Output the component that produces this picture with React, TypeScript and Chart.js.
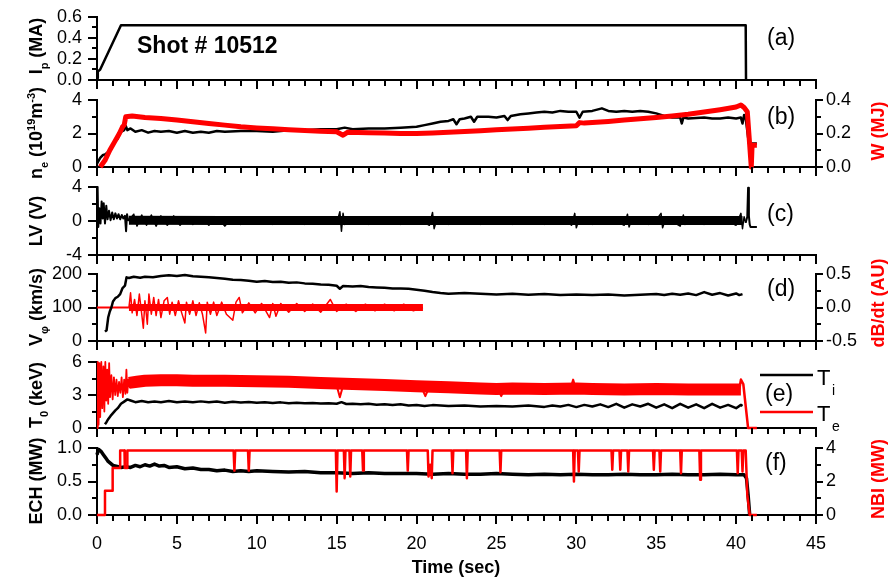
import React, { useEffect, useRef } from 'react';
import { Chart, registerables } from 'chart.js';

Chart.register(...registerables);

const FONT = "'Liberation Sans', Arial, Helvetica, sans-serif";
const RED = '#ff0000';
const BLACK = '#000000';
const W = 891;
const H = 579;
const LEFT = 97;
const RIGHT = 816;

Chart.defaults.font.family = FONT;
Chart.defaults.color = BLACK;

type Pt = [number, number | null];

// ---------------- data (time in s, value) ----------------
// (a) plasma current Ip (MA)
const IP: Pt[] = [[0, 0.02], [0.05, 0.08], [0.2, 0.1], [1.5, 0.52], [40.6, 0.52], [40.62, 0]];

// (b) line density ne (1e19 m^-3), left axis
const NE: Pt[] = [[0, 0.2], [0.2, 0.55], [0.35, 0.7], [0.5, 0.75], [0.7, 0.9], [0.9, 1.2], [1.1, 1.5], [1.3, 1.7], [1.5, 2.1], [1.7, 2.2], [1.8, 2.45], [1.9, 2.2], [2.1, 2.3], [2.4, 2.1], [2.8, 2.2], [3.2, 2.05], [3.6, 2.15], [4, 2.1], [4.5, 2.15], [5, 2.05], [5.5, 2.15], [6, 2.05], [6.5, 2.1], [7, 2.05], [7.5, 2.15], [8, 2.1], [9, 2.15], [10, 2.15], [11, 2.1], [12, 2.2], [13, 2.2], [14, 2.25], [15, 2.25], [15.5, 2.35], [16, 2.25], [17, 2.3], [18, 2.3], [19, 2.35], [20, 2.4], [20.5, 2.5], [21, 2.6], [21.5, 2.7], [22, 2.75], [22.3, 2.85], [22.5, 2.55], [22.7, 2.85], [23, 2.9], [23.4, 3.0], [23.6, 2.7], [23.8, 3.0], [24.5, 3.0], [25, 2.95], [25.5, 3.05], [25.7, 2.8], [25.9, 3.05], [26.5, 3.15], [27, 3.2], [27.5, 3.25], [28, 3.3], [28.5, 3.25], [29, 3.35], [29.5, 3.3], [30, 3.3], [30.2, 2.95], [30.4, 3.3], [31, 3.35], [31.6, 3.5], [32, 3.35], [32.5, 3.3], [33, 3.35], [33.5, 3.3], [34, 3.35], [34.5, 3.3], [35, 3.2], [35.5, 3.05], [36, 2.95], [36.5, 2.95], [36.6, 2.6], [36.7, 2.95], [37, 2.9], [38, 2.95], [38.5, 2.9], [39, 2.9], [39.5, 2.95], [40, 2.9], [40.3, 2.95], [40.4, 2.6], [40.5, 3.1], [40.6, 2.9], [40.8, 1.4], [41.3, 1.4]];

// (b) stored energy W (MJ), right axis
const WMJ: Pt[] = [[0.2, 0], [0.5, 0.04], [0.8, 0.1], [1.1, 0.15], [1.4, 0.2], [1.6, 0.24], [1.7, 0.25], [1.8, 0.3], [2.2, 0.305], [3, 0.295], [4, 0.29], [5, 0.28], [6, 0.27], [7, 0.26], [8, 0.25], [9, 0.24], [10, 0.233], [11, 0.228], [12, 0.222], [13, 0.218], [14, 0.214], [15, 0.21], [15.4, 0.19], [15.7, 0.208], [17, 0.205], [18, 0.203], [19, 0.2], [20, 0.2], [21, 0.203], [22, 0.207], [23, 0.212], [24, 0.217], [25, 0.222], [26, 0.227], [27, 0.232], [28, 0.237], [29, 0.242], [30, 0.246], [30.2, 0.265], [30.5, 0.262], [31, 0.266], [32, 0.272], [33, 0.28], [34, 0.288], [35, 0.296], [36, 0.305], [37, 0.315], [38, 0.328], [39, 0.342], [40, 0.358], [40.3, 0.37], [40.5, 0.355], [40.7, 0.33], [40.95, 0.0], [41.0, 0.13], [41.3, 0.13]];

// (c) loop voltage LV (V)
const LV_EARLY: Pt[] = [[0, 4.0], [0.04, 3.8], [0.08, -0.7], [0.15, 1.5], [0.22, -0.3], [0.29, 2.3], [0.36, 0.3], [0.42, 2.1], [0.5, -0.3], [0.58, 1.8], [0.66, 0.2], [0.75, 1.2], [0.85, 0.1], [0.95, 1.0], [1.05, 0.2], [1.15, 0.9], [1.25, 0.3], [1.35, 0.8], [1.45, 0.2], [1.55, 0.7], [1.65, 0.3], [1.75, 0.6], [1.82, -1.2], [1.88, 0.8], [1.95, 0.1], [2.0, 0.3]];
const LV_BAND: Pt[] = [[2.0, 0.1], [8.0, 0.05], [40.4, 0.05]];
const LV_SPIKES: Pt[] = [[2, 0.1], [2.3, 0.8], [2.5, -0.6], [2.8, 0.7], [3.1, -0.5], [3.4, 0.7], [3.7, -0.6], [4.0, 0.6], [4.4, -0.5], [4.8, 0.6], [5.2, -0.5], [5.6, 0.5], [6.0, -0.4], [6.5, 0.5], [7.0, -0.5], [7.5, 0.4], [8, -0.6], [8.5, 0.4], [9, -0.4], [10, 0.4], [11, -0.4], [12, 0.4], [13, -0.4], [14, 0.4], [15, -0.3], [15.2, 1.1], [15.3, -1.2], [15.4, 0.9], [15.5, -0.4], [16, 0.4], [17, -0.4], [18, 0.4], [19, -0.4], [20, 0.4], [20.8, -0.5], [21.0, 1.0], [21.1, -0.9], [21.3, 0.4], [22, -0.4], [23, 0.4], [24, -0.4], [25, 0.4], [26, -0.4], [27, 0.4], [28, -0.4], [29, 0.4], [29.7, -0.5], [29.9, 0.9], [30.0, -0.8], [30.2, 0.4], [31, -0.4], [32, 0.4], [33, -0.5], [33.2, 0.8], [33.3, -0.7], [33.5, 0.4], [34.5, -0.4], [35.1, 0.4], [35.3, 0.9], [35.4, -0.8], [35.6, 0.4], [36.5, -0.6], [36.7, 0.7], [36.8, -0.4], [37.5, 0.5], [38, -0.4], [39, 0.4], [40, -0.5], [40.3, 0.9], [40.4, -0.9], [40.5, 0.5], [40.6, -0.2]];
const LV_END: Pt[] = [[40.6, -0.2], [40.7, 0.5], [40.75, 3.9], [40.8, 0.6], [40.85, -0.4], [40.9, -0.7], [41.3, -0.7]];

// (d) toroidal rotation V_phi (km/s), left axis
const VPHI: Pt[] = [[0.5, 28], [0.6, 32], [0.7, 70], [0.8, 88], [0.9, 100], [1.0, 118], [1.15, 128], [1.3, 132], [1.45, 140], [1.6, 158], [1.75, 165], [1.85, 190], [2.0, 188], [2.3, 192], [2.7, 189], [3.0, 192], [3.5, 190], [4.0, 194], [4.5, 196], [5.0, 194], [5.5, 197], [6, 193], [6.5, 192], [7, 190], [7.5, 188], [8, 186], [8.5, 183], [9, 182], [9.5, 180], [10, 177], [10.5, 179], [11, 176], [11.5, 177], [12, 174], [12.5, 175], [13, 172], [13.5, 171], [14, 169], [14.5, 168], [15, 165], [15.2, 156], [15.4, 164], [16, 163], [16.5, 164], [17, 161], [17.5, 160], [18, 159], [18.5, 157], [19, 157], [19.5, 156], [20, 153], [20.5, 150], [21, 146], [21.5, 143], [22, 141], [23, 143], [24, 141], [25, 139], [26, 141], [27, 138], [28, 140], [29, 137], [30, 139], [31, 137], [32, 139], [33, 136], [34, 138], [35, 140], [35.5, 137], [36, 141], [36.5, 138], [37, 142], [37.5, 137], [38, 146], [38.5, 138], [39, 143], [39.5, 136], [40, 142], [40.2, 137], [40.4, 140]];

// (d) dB/dt (AU), right axis
const DB_FLAT: Pt[] = [[0, 0], [2.0, 0]];
const DB_BAND: Pt[] = [[2.0, 0], [20.4, 0]];
const DB_SPIKES: Pt[] = [[2.0, 0], [2.1, 0.22], [2.2, -0.08], [2.35, 0.12], [2.5, -0.12], [2.65, 0.2], [2.8, -0.1], [2.9, -0.31], [3.0, 0.1], [3.15, -0.25], [3.25, 0.2], [3.4, -0.1], [3.55, 0.15], [3.7, -0.12], [3.85, 0.12], [4.0, -0.15], [4.2, 0.1], [4.4, 0.15], [4.55, -0.1], [4.7, 0.08], [4.9, -0.12], [5.1, 0.1], [5.3, -0.08], [5.5, -0.23], [5.6, 0.08], [5.8, -0.1], [6.0, 0.1], [6.2, -0.12], [6.4, 0.07], [6.6, -0.1], [6.8, -0.38], [6.9, 0.08], [7.1, -0.1], [7.3, 0.08], [7.5, -0.12], [7.8, 0.08], [8.1, -0.1], [8.5, -0.19], [8.7, 0.08], [8.9, 0.15], [9.1, -0.08], [9.5, 0.07], [9.9, -0.08], [10.3, 0.06], [10.8, -0.15], [11.0, 0.06], [11.2, -0.13], [11.5, 0.06], [12, -0.07], [12.5, 0.06], [13, -0.06], [13.5, 0.05], [14, -0.07], [14.6, 0.12], [15, -0.06], [15.6, 0.05], [16.2, -0.06], [16.8, 0.05], [17.4, -0.05], [18, 0.05], [18.6, -0.05], [19.2, 0.05], [19.8, -0.05], [20.4, 0]];

// (e) central temperatures T0 (keV)
const TE_EARLY: Pt[] = [[0, 0.0], [0.05, 6.0], [0.1, 0.3], [0.15, 5.9], [0.2, 1.0], [0.27, 6.0], [0.33, 1.8], [0.4, 5.6], [0.46, 1.5], [0.52, 6.0], [0.58, 2.5], [0.64, 5.3], [0.7, 2.2], [0.76, 5.9], [0.82, 2.8], [0.9, 4.8], [0.98, 2.6], [1.06, 4.6], [1.14, 3.0], [1.22, 4.4], [1.3, 2.9], [1.38, 4.2], [1.46, 3.2], [1.54, 4.6], [1.62, 2.8], [1.7, 4.4], [1.78, 3.1], [1.84, 5.3], [1.9, 3.2], [1.96, 4.4], [2.05, 3.7], [2.15, 4.3]];
const TE_BAND: Pt[] = [[2.0, 4.1], [2.5, 4.2], [3, 4.3], [4, 4.35], [5, 4.35], [6, 4.3], [8, 4.3], [10, 4.25], [12, 4.2], [14, 4.1], [15, 4.05], [16, 4.0], [18, 3.9], [20, 3.8], [22, 3.7], [24, 3.6], [25, 3.55], [26, 3.6], [28, 3.55], [30, 3.58], [31, 3.55], [33, 3.5], [35, 3.55], [37, 3.5], [39, 3.5], [40.3, 3.5]];
const TE_DIP: Pt[] = [[15.05, 3.6], [15.2, 2.8], [15.35, 3.6], [15.4, null], [20.4, 3.4], [20.55, 2.9], [20.7, 3.4], [20.8, null], [25.2, 3.2], [25.3, 2.9], [25.4, 3.2], [25.5, null], [29.7, 3.9], [29.8, 4.4], [29.9, 3.9]];
const TE_END: Pt[] = [[40.2, 3.5], [40.3, 4.4], [40.45, 4.0], [40.6, 2.0], [40.75, 0], [41.3, 0]];
const TI: Pt[] = [[0.5, 0.35], [0.6, 0.55], [0.7, 0.8], [0.85, 1.1], [1.0, 1.35], [1.15, 1.6], [1.3, 1.8], [1.5, 2.2], [1.7, 2.4], [1.9, 2.6], [2.1, 2.5], [2.4, 2.35], [2.8, 2.45], [3.2, 2.35], [3.6, 2.4], [4, 2.35], [4.5, 2.45], [5, 2.35], [5.5, 2.4], [6, 2.35], [6.5, 2.42], [7, 2.35], [7.5, 2.4], [8, 2.3], [8.5, 2.38], [9, 2.32], [9.5, 2.36], [10, 2.3], [10.5, 2.35], [11, 2.28], [11.5, 2.33], [12, 2.26], [12.5, 2.3], [13, 2.25], [13.5, 2.28], [14, 2.22], [14.5, 2.25], [15, 2.2], [15.3, 2.35], [15.6, 2.18], [16, 2.2], [16.5, 2.15], [17, 2.2], [17.5, 2.12], [18, 2.16], [18.5, 2.1], [19, 2.15], [19.5, 2.05], [20, 2.1], [20.5, 2.0], [21, 2.08], [22, 2.0], [23, 2.05], [24, 1.95], [25, 2.0], [26, 1.95], [27, 2.05], [28, 1.92], [28.5, 2.05], [29, 1.95], [29.5, 2.1], [30, 1.9], [30.5, 2.1], [31, 1.95], [31.5, 2.15], [32, 1.9], [32.5, 2.2], [33, 1.85], [33.5, 2.15], [34, 1.95], [34.5, 2.2], [35, 1.85], [35.5, 2.15], [36, 1.8], [36.5, 2.2], [37, 1.85], [37.5, 2.15], [38, 1.8], [38.5, 2.2], [39, 1.85], [39.5, 2.1], [40, 1.8], [40.3, 2.1], [40.4, 2.0]];

// (f) ECH power (MW) left, NBI power (MW) right
const ECH: Pt[] = [[0, 0.9], [0.1, 0.98], [0.25, 0.95], [0.4, 0.9], [0.55, 0.85], [0.7, 0.8], [0.85, 0.77], [1.0, 0.74], [1.2, 0.73], [1.5, 0.71], [1.8, 0.72], [2.1, 0.71], [2.4, 0.74], [2.7, 0.72], [3.0, 0.75], [3.3, 0.73], [3.6, 0.76], [3.9, 0.73], [4.2, 0.74], [4.5, 0.71], [5, 0.72], [5.5, 0.69], [6, 0.7], [6.5, 0.68], [7, 0.68], [7.5, 0.66], [8, 0.67], [8.5, 0.65], [9, 0.66], [9.5, 0.65], [10, 0.66], [11, 0.65], [12, 0.64], [13, 0.65], [14, 0.63], [15, 0.63], [16, 0.62], [17, 0.63], [18, 0.62], [19, 0.62], [20, 0.62], [21, 0.61], [22, 0.62], [23, 0.61], [24, 0.61], [25, 0.62], [26, 0.61], [27, 0.6], [28, 0.61], [29, 0.6], [30, 0.61], [31, 0.6], [32, 0.6], [33, 0.61], [34, 0.6], [35, 0.6], [36, 0.61], [37, 0.6], [38, 0.6], [39, 0.61], [40, 0.6], [40.5, 0.6], [40.65, 0.55], [40.75, 0.3], [40.85, 0.0]];
const NBI: Pt[] = [[0, 0], [0.5, 0], [0.5, 1.45], [0.98, 1.45], [0.98, 2.8], [1.45, 2.8], [1.45, 3.85], [1.72, 3.85], [1.74, 2.8], [1.88, 2.8], [1.9, 3.85],
  [8.55, 3.85], [8.6, 2.65], [8.65, 3.85], [9.45, 3.85], [9.5, 2.65], [9.55, 3.85],
  [14.95, 3.85], [15.0, 1.4], [15.05, 3.85], [15.45, 3.85], [15.5, 2.2], [15.55, 3.85],
  [15.8, 3.85], [15.85, 2.3], [15.9, 3.85], [16.6, 3.85], [16.65, 2.65], [16.7, 3.85],
  [19.4, 3.85], [19.45, 2.65], [19.5, 3.85], [20.7, 3.85], [20.75, 2.3], [20.85, 3.0], [20.95, 2.2], [21.0, 3.85],
  [22.2, 3.85], [22.25, 2.5], [22.3, 3.85], [23.1, 3.85], [23.15, 2.2], [23.2, 3.85],
  [25.2, 3.85], [25.25, 2.55], [25.3, 3.85], [29.8, 3.85], [29.85, 2.0], [29.9, 3.85],
  [30.1, 3.85], [30.15, 2.6], [30.2, 3.85], [32.2, 3.85], [32.25, 2.7], [32.3, 3.85],
  [32.7, 3.85], [32.75, 2.7], [32.8, 3.85], [33.2, 3.85], [33.25, 2.6], [33.3, 3.85],
  [34.8, 3.85], [34.85, 2.7], [34.9, 3.85], [35.2, 3.85], [35.25, 2.6], [35.3, 3.85],
  [36.5, 3.85], [36.55, 2.5], [36.6, 3.85], [37.7, 3.85], [37.75, 2.1], [37.8, 3.85],
  [40.05, 3.85], [40.1, 2.5], [40.15, 3.85], [40.35, 3.85], [40.4, 2.6], [40.45, 3.85],
  [40.6, 3.85], [40.7, 1.2], [40.85, 0], [41.3, 0]];

// ---------------- axis tick settings ----------------
const X_MIN = 0, X_MAX = 45, X_STEP = 5;

// ---------------- helpers ----------------
const toXY = (a: Pt[]) => a.map(([x, y]) => ({ x, y }));

function line(data: Pt[], color: string, width: number, axis = 'y') {
  return {
    data: toXY(data),
    borderColor: color,
    backgroundColor: color,
    borderWidth: width,
    yAxisID: axis,
    pointRadius: 0,
    fill: false,
    tension: 0,
    clip: 12,
    spanGaps: false,
  };
}

type Seg = { t: string; s?: 'sub' | 'sup' };
type Item =
  | { kind: 'text'; segs: Seg[]; x: number; y: number; size: number; bold?: boolean; color?: string; rotate?: boolean; align?: 'left' | 'center' | 'right' }
  | { kind: 'line'; x1: number; y1: number; x2: number; y2: number; color: string; width: number };

function drawRich(ctx: CanvasRenderingContext2D, it: any) {
  const { segs, x, y, size, bold, color, rotate, align } = it;
  ctx.save();
  ctx.translate(x, y);
  if (rotate) ctx.rotate(-Math.PI / 2);
  ctx.fillStyle = color || BLACK;
  ctx.textBaseline = 'alphabetic';
  ctx.textAlign = 'left';
  const font = (s?: string) => `${bold ? 'bold ' : ''}${s ? Math.round(size * 0.62) : size}px ${FONT}`;
  const widths = segs.map((sg: Seg) => { ctx.font = font(sg.s); return ctx.measureText(sg.t).width; });
  const total = widths.reduce((a: number, b: number) => a + b, 0);
  let cx = align === 'left' ? 0 : align === 'right' ? -total : -total / 2;
  const base = size * 0.36;
  segs.forEach((sg: Seg, i: number) => {
    ctx.font = font(sg.s);
    const dy = sg.s === 'sub' ? size * 0.32 : sg.s === 'sup' ? -size * 0.42 : 0;
    ctx.fillText(sg.t, cx, base + dy);
    cx += widths[i];
  });
  ctx.restore();
}

function overlay(items: Item[]) {
  return {
    id: 'overlay',
    afterDraw(chart: any) {
      const ctx: CanvasRenderingContext2D = chart.ctx;
      items.forEach((it: any) => {
        if (it.kind === 'line') {
          ctx.save();
          ctx.strokeStyle = it.color;
          ctx.lineWidth = it.width;
          ctx.beginPath();
          ctx.moveTo(it.x1, it.y1);
          ctx.lineTo(it.x2, it.y2);
          ctx.stroke();
          ctx.restore();
        } else {
          drawRich(ctx, it);
        }
      });
    },
  };
}

type MinorSpec = { id: string; values: number[]; len: number };

function minorTicks(list: MinorSpec[]) {
  return {
    id: 'minorTicks',
    afterDraw(chart: any) {
      const ctx: CanvasRenderingContext2D = chart.ctx;
      ctx.save();
      ctx.strokeStyle = BLACK;
      ctx.lineWidth = 2;
      list.forEach(({ id, values, len }) => {
        const s = chart.scales[id];
        if (!s) return;
        values.forEach((v) => {
          const p = Math.round(s.getPixelForValue(v));
          ctx.beginPath();
          if (s.isHorizontal()) {
            ctx.moveTo(p, s.top);
            ctx.lineTo(p, s.top + len);
          } else if (s.position === 'left') {
            ctx.moveTo(s.right, p);
            ctx.lineTo(s.right - len, p);
          } else {
            ctx.moveTo(s.left, p);
            ctx.lineTo(s.left + len, p);
          }
          ctx.stroke();
        });
      });
      ctx.restore();
    },
  };
}

type AxisCfg = { min: number; max: number; step: number; dec: number; minor: number[] };

function yAxis(cfg: AxisCfg, pos: 'left' | 'right') {
  return {
    type: 'linear',
    position: pos,
    min: cfg.min,
    max: cfg.max,
    ticks: {
      stepSize: cfg.step,
      autoSkip: false,
      color: BLACK,
      padding: pos === 'left' ? 6 : 3,
      font: { family: FONT, size: 18 },
      callback: (v: any) => {
        const n = Number(v);
        return (Math.abs(n) < 1e-9 ? 0 : n).toFixed(cfg.dec);
      },
    },
    grid: { drawOnChartArea: false, drawTicks: true, tickLength: pos === 'left' ? 9 : 7, color: BLACK, lineWidth: 2 },
    border: { display: true, color: BLACK, width: 2 },
    afterFit: (s: any) => { s.width = pos === 'left' ? LEFT : W - RIGHT; },
  };
}

type PanelSpec = {
  top: number;
  bottom: number;
  last?: boolean;
  y: AxisCfg;
  y2?: AxisCfg;
  datasets: any[];
  items: Item[];
};

const xMinorValues: number[] = [];
for (let v = X_MIN; v <= X_MAX; v += 1) if (v % X_STEP !== 0) xMinorValues.push(v);

const T = (segs: Seg[], x: number, y: number, size: number, opts: any = {}): Item =>
  ({ kind: 'text', segs, x, y, size, ...opts } as Item);

const TITLE_X = 36;
const RTITLE_X = 878;
const LABEL_X = 767;

const PANELS: PanelSpec[] = [
  {
    top: 13, bottom: 80,
    y: { min: 0, max: 0.6, step: 0.2, dec: 1, minor: [0.1, 0.3, 0.5] },
    datasets: [line(IP, BLACK, 2.5)],
    items: [
      T([{ t: 'I' }, { t: 'p', s: 'sub' }, { t: ' (MA)' }], TITLE_X, 46, 18, { bold: true, rotate: true }),
      T([{ t: 'Shot # 10512' }], 137, 45, 23, { bold: true, align: 'left' }),
      T([{ t: '(a)' }], LABEL_X, 37, 23, { align: 'left' }),
    ],
  },
  {
    top: 100, bottom: 167,
    y: { min: 0, max: 4, step: 2, dec: 0, minor: [1, 3] },
    y2: { min: 0, max: 0.4, step: 0.2, dec: 1, minor: [0.1, 0.3] },
    datasets: [line(WMJ, RED, 5, 'y2'), line(NE, BLACK, 2.5)],
    items: [
      T([{ t: 'n' }, { t: 'e', s: 'sub' }, { t: ' (10' }, { t: '19', s: 'sup' }, { t: 'm' }, { t: '-3', s: 'sup' }, { t: ')' }], TITLE_X, 133, 18, { bold: true, rotate: true }),
      T([{ t: 'W (MJ)' }], RTITLE_X, 131, 18, { bold: true, rotate: true, color: RED }),
      T([{ t: '(b)' }], LABEL_X, 116, 23, { align: 'left' }),
    ],
  },
  {
    top: 187, bottom: 255,
    y: { min: -4, max: 4, step: 4, dec: 0, minor: [-2, 2] },
    datasets: [
      line(LV_EARLY, BLACK, 2),
      line(LV_BAND, BLACK, 9),
      line(LV_SPIKES, BLACK, 1.5),
      line(LV_END, BLACK, 2),
    ],
    items: [
      T([{ t: 'LV (V)' }], TITLE_X, 221, 18, { bold: true, rotate: true }),
      T([{ t: '(c)' }], LABEL_X, 213, 23, { align: 'left' }),
    ],
  },
  {
    top: 274, bottom: 341,
    y: { min: 0, max: 200, step: 100, dec: 0, minor: [50, 150] },
    y2: { min: -0.5, max: 0.5, step: 0.5, dec: 1, minor: [-0.25, 0.25] },
    datasets: [
      line(VPHI, BLACK, 2.5),
      line(DB_FLAT, RED, 2, 'y2'),
      line(DB_BAND, RED, 7, 'y2'),
      line(DB_SPIKES, RED, 1.5, 'y2'),
    ],
    items: [
      T([{ t: 'V' }, { t: 'φ', s: 'sub' }, { t: ' (km/s)' }], TITLE_X, 307, 18, { bold: true, rotate: true }),
      T([{ t: 'dB/dt (AU)' }], RTITLE_X, 303, 18, { bold: true, rotate: true, color: RED }),
      T([{ t: '(d)' }], LABEL_X, 288, 23, { align: 'left' }),
    ],
  },
  {
    top: 362, bottom: 428,
    y: { min: 0, max: 6, step: 3, dec: 0, minor: [1.5, 4.5] },
    datasets: [
      line(TE_EARLY, RED, 1.8),
      line(TE_BAND, RED, 12),
      line(TE_DIP, RED, 2),
      line(TE_END, RED, 2.5),
      line(TI, BLACK, 2.5),
    ],
    items: [
      T([{ t: 'T' }, { t: '0', s: 'sub' }, { t: ' (keV)' }], TITLE_X, 395, 18, { bold: true, rotate: true }),
      T([{ t: '(e)' }], 765, 393, 23, { align: 'left' }),
      { kind: 'line', x1: 760, y1: 375, x2: 813, y2: 375, color: BLACK, width: 2.5 },
      { kind: 'line', x1: 760, y1: 412, x2: 813, y2: 412, color: RED, width: 2.5 },
      T([{ t: 'T' }], 817, 377, 22, { align: 'left' }),
      T([{ t: 'i' }], 832, 390, 14, { align: 'left' }),
      T([{ t: 'T' }], 817, 413, 22, { align: 'left' }),
      T([{ t: 'e' }], 832, 426, 14, { align: 'left' }),
    ],
  },
  {
    top: 448, bottom: 515, last: true,
    y: { min: 0, max: 1, step: 0.5, dec: 1, minor: [0.25, 0.75] },
    y2: { min: 0, max: 4, step: 2, dec: 0, minor: [1, 3] },
    datasets: [line(NBI, RED, 2.5, 'y2'), line(ECH, BLACK, 3.5)],
    items: [
      T([{ t: 'ECH (MW)' }], TITLE_X, 481, 18, { bold: true, rotate: true }),
      T([{ t: 'NBI (MW)' }], RTITLE_X, 479, 18, { bold: true, rotate: true, color: RED }),
      T([{ t: '(f)' }], 765, 462, 23, { align: 'left' }),
      T([{ t: 'Time (sec)' }], 456, 567, 18, { bold: true, align: 'center' }),
    ],
  },
];

function Panel({ spec }: { spec: PanelSpec }) {
  const ref = useRef<HTMLCanvasElement | null>(null);
  useEffect(() => {
    if (!ref.current) return;
    const xH = spec.last ? 40 : 10;
    const scales: any = {
      x: {
        type: 'linear',
        position: 'bottom',
        min: X_MIN,
        max: X_MAX,
        ticks: {
          stepSize: X_STEP,
          display: !!spec.last,
          autoSkip: false,
          maxRotation: 0,
          padding: 9,
          color: BLACK,
          font: { family: FONT, size: 18 },
          callback: (v: any) => String(v),
        },
        grid: { drawOnChartArea: false, drawTicks: true, tickLength: 9, color: BLACK, lineWidth: 2 },
        border: { display: true, color: BLACK, width: 2 },
        afterFit: (s: any) => { s.height = xH; },
      },
      y: yAxis(spec.y, 'left'),
    };
    const minors: MinorSpec[] = [
      { id: 'x', values: xMinorValues, len: 6 },
      { id: 'y', values: spec.y.minor, len: 5 },
    ];
    if (spec.y2) {
      scales.y2 = yAxis(spec.y2, 'right');
      minors.push({ id: 'y2', values: spec.y2.minor, len: 5 });
    }
    const chart = new Chart(ref.current, {
      type: 'line',
      data: { datasets: spec.datasets },
      options: {
        animation: false,
        responsive: false,
        maintainAspectRatio: false,
        devicePixelRatio: 1,
        events: [],
        layout: {
          padding: {
            top: spec.top,
            bottom: H - spec.bottom - xH,
            left: 0,
            right: spec.y2 ? 0 : W - RIGHT,
          },
        },
        plugins: { legend: { display: false }, tooltip: { enabled: false }, title: { display: false } },
        elements: { point: { radius: 0 }, line: { tension: 0, borderJoinStyle: 'round' } },
        scales,
      } as any,
      plugins: [minorTicks(minors), overlay(spec.items)],
    } as any);
    return () => chart.destroy();
  }, [spec]);
  return (
    <canvas
      ref={ref}
      width={W}
      height={H}
      style={{ position: 'absolute', left: 0, top: 0, width: W, height: H }}
    />
  );
}

export default function App() {
  return (
    <div style={{ position: 'absolute', left: 0, top: 0, width: W, height: H, background: '#ffffff', overflow: 'hidden' }}>
      {PANELS.map((p, i) => (
        <Panel key={i} spec={p} />
      ))}
    </div>
  );
}
